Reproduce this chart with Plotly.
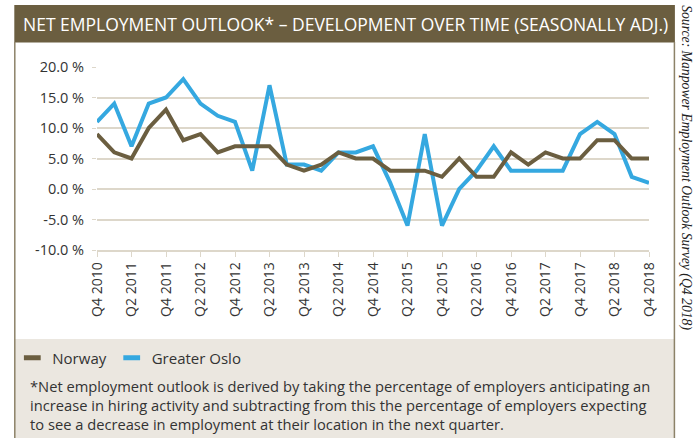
import plotly.graph_objects as go

quarters = ["Q4 2010", "Q1 2011", "Q2 2011", "Q3 2011", "Q4 2011", "Q1 2012", "Q2 2012", "Q3 2012",
            "Q4 2012", "Q1 2013", "Q2 2013", "Q3 2013", "Q4 2013", "Q1 2014", "Q2 2014", "Q3 2014",
            "Q4 2014", "Q1 2015", "Q2 2015", "Q3 2015", "Q4 2015", "Q1 2016", "Q2 2016", "Q3 2016",
            "Q4 2016", "Q1 2017", "Q2 2017", "Q3 2017", "Q4 2017", "Q1 2018", "Q2 2018", "Q3 2018",
            "Q4 2018"]
norway = [9, 6, 5, 10, 13, 8, 9, 6, 7, 7, 7, 4, 3, 4, 6, 5, 5, 3, 3, 3, 2, 5, 2, 2, 6, 4, 6, 5, 5, 8, 8, 5, 5]
greater_oslo = [11, 14, 7, 14, 15, 18, 14, 12, 11, 3, 17, 4, 4, 3, 6, 6, 7, 1, -6, 9, -6, 0, 3, 7, 3, 3, 3, 3,
                9, 11, 9, 2, 1]
y_ticks = [-10, -5, 0, 5, 10, 15, 20]
y_tick_labels = ["-10.0 %", "-5.0 %", "0.0 %", "5.0 %", "10.0 %", "15.0 %", "20.0 %"]

W, H = 693, 438
L, R, T, B = 95, 44, 67, 188
pw, ph = W - L - R, H - T - B

def px(x):
    return (x - L) / pw

def py(y):
    return (H - B - y) / ph

BROWN = "#6b5e40"
BLUE = "#35a8e0"
BEIGE = "#ebe7e0"
GRID = "#ddd7ca"
BORDER = "#8c8268"
FONT = "Open Sans"

idx = list(range(len(quarters)))

fig = go.Figure()
fig.add_trace(go.Scatter(x=idx, y=greater_oslo, mode="lines", name="Greater Oslo",
                         line=dict(color=BLUE, width=4), showlegend=False))
fig.add_trace(go.Scatter(x=idx, y=norway, mode="lines", name="Norway",
                         line=dict(color=BROWN, width=4), showlegend=False))
# legend entries
fig.add_trace(go.Scatter(x=[None], y=[None], mode="markers", name="Norway",
                         marker=dict(symbol="line-ew", size=12, line=dict(color=BROWN, width=5))))
fig.add_trace(go.Scatter(x=[None], y=[None], mode="markers", name="Greater Oslo",
                         marker=dict(symbol="line-ew", size=12, line=dict(color=BLUE, width=5))))

shapes = [
    dict(type="rect", xref="paper", yref="paper", x0=px(12), x1=px(675), y0=py(42.5), y1=py(5),
         fillcolor=BROWN, line=dict(width=0), layer="below"),
    dict(type="rect", xref="paper", yref="paper", x0=px(12), x1=px(675), y0=py(438), y1=py(339),
         fillcolor=BEIGE, line=dict(width=0), layer="below"),
    dict(type="line", xref="paper", yref="paper", x0=px(12.5), x1=px(12.5), y0=py(438), y1=py(42),
         line=dict(color=BORDER, width=1.5)),
    dict(type="line", xref="paper", yref="paper", x0=px(674.5), x1=px(674.5), y0=py(438), y1=py(42),
         line=dict(color=BORDER, width=1.5)),
]

annotations = [
    dict(text="NET EMPLOYMENT OUTLOOK* \u2013 DEVELOPMENT OVER TIME (SEASONALLY ADJ.)",
         xref="paper", yref="paper", x=px(19), y=py(24), xanchor="left", yanchor="middle",
         showarrow=False, font=dict(family=FONT, size=17.5, color="white")),
    dict(text="*Net employment outlook is derived by taking the percentage of employers anticipating an<br>"
              "increase in hiring activity and subtracting from this the percentage of employers expecting<br>"
              "to see a decrease in employment at their location in the next quarter.",
         xref="paper", yref="paper", x=px(26), y=py(374), xanchor="left", yanchor="top", align="left",
         showarrow=False, font=dict(family=FONT, size=14.7, color="#333333")),
    dict(text="Source: Manpower Employment Outlook Survey (Q4 2018)",
         xref="paper", yref="paper", x=px(686), y=py(168), xanchor="center", yanchor="middle",
         textangle=90, showarrow=False,
         font=dict(family="Liberation Serif", size=13.7, color="#222222", style="italic")),
]

fig.update_layout(
    width=W, height=H,
    margin=dict(l=L, r=R, t=T, b=B),
    paper_bgcolor="white", plot_bgcolor="white",
    font=dict(family=FONT, color="#333333"),
    shapes=shapes, annotations=annotations,
    legend=dict(orientation="h", x=px(10), y=py(358), xanchor="left", yanchor="middle",
                bgcolor="rgba(0,0,0,0)", font=dict(family=FONT, size=15, color="#333333"),
                itemwidth=30, tracegroupgap=0),
    xaxis=dict(range=[0, 32], tickmode="array", tickvals=idx[::2], ticktext=quarters[::2],
               tickangle=-90, showgrid=False, showline=True, linecolor=GRID, linewidth=1.5,
               ticks="outside", ticklen=5, tickcolor=GRID, zeroline=False, automargin=False,
               tickfont=dict(family=FONT, size=14, color="#333333")),
    yaxis=dict(range=[-10, 20], tickmode="array", tickvals=y_ticks, ticktext=y_tick_labels,
               showgrid=True, gridcolor=GRID, gridwidth=1.5, zeroline=False, showline=False,
               ticks="outside", ticklen=4, tickcolor=GRID, automargin=False, ticklabelstandoff=5,
               tickfont=dict(family=FONT, size=14.5, color="#333333")),
)

fig.write_html("out.html", config={"displayModeBar": False},
               post_script="document.body.style.margin='0';")
